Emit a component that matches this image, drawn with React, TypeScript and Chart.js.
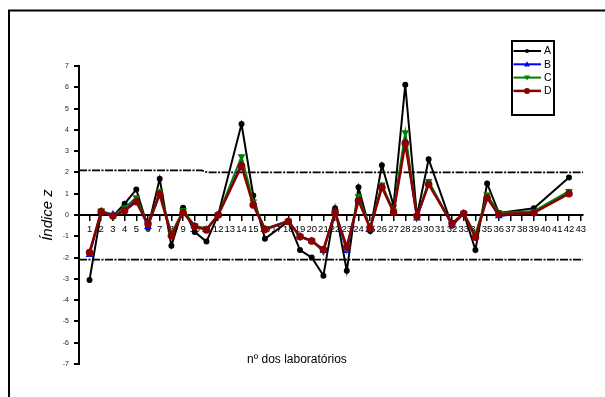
import { useEffect, useRef } from 'react';
import { Chart, registerables } from 'chart.js';
Chart.register(...registerables);

const labs = [1, 2, 3, 4, 5, 6, 7, 8, 9, 10, 11, 12, 13, 14, 15, 16, 17, 18, 19, 20, 21, 22, 23, 24, 25, 26, 27, 28, 29, 30, 31, 32, 33, 34, 35, 36, 37, 38, 39, 40, 41, 42, 43];

const seriesA = [-3.05, 0.15, -0.05, 0.53, 1.2, -0.6, 1.7, -1.45, 0.34, -0.8, -1.25, 0.0, null, 4.27, 0.92, -1.12, null, -0.3, -1.65, -2.0, -2.85, 0.32, -2.62, 1.3, -0.75, 2.34, 0.45, 6.12, -0.05, 2.62, null, -0.5, 0.08, -1.64, 1.48, 0.1, null, null, 0.32, null, null, 1.76, null];
const seriesB = [-1.87, 0.18, 0.02, 0.3, 0.7, -0.55, 1.0, -0.9, 0.15, -0.52, -0.68, 0.0, null, 2.42, 0.55, -0.66, null, -0.28, -1.0, -1.22, -1.68, 0.15, -1.68, 0.78, -0.62, 1.35, 0.15, 3.52, -0.15, 1.5, null, -0.47, 0.07, -0.98, 0.85, -0.05, null, null, 0.15, null, null, 1.05, null];
const seriesC = [-1.8, 0.2, -0.03, 0.34, 0.82, -0.45, 1.1, -0.88, 0.22, -0.5, -0.65, 0.0, null, 2.75, 0.62, -0.65, null, -0.28, -1.0, -1.2, -1.72, 0.18, -1.6, 0.87, -0.6, 1.42, 0.2, 3.87, -0.1, 1.58, null, -0.43, 0.08, -0.92, 0.95, 0.1, null, null, 0.18, null, null, 1.12, null];
const seriesD = [-1.76, 0.15, -0.05, 0.2, 0.62, -0.42, 0.97, -0.97, 0.12, -0.54, -0.7, 0.0, null, 2.3, 0.47, -0.68, null, -0.3, -1.02, -1.22, -1.62, 0.13, -1.5, 0.68, -0.63, 1.3, 0.13, 3.36, -0.05, 1.44, null, -0.4, 0.07, -1.05, 0.8, 0.03, null, null, 0.1, null, null, 1.0, null];

const upperX = [0.1, 10.6, 11.1, 43.2];
const upperY = [2.1, 2.1, 2.0, 2.0];
const lowerX = [0.1, 43.2];
const lowerY = [-2.1, -2.1];

const yTicks = [-7, -6, -5, -4, -3, -2, -1, 0, 1, 2, 3, 4, 5, 6, 7];

const FONT = '"Liberation Sans", Arial, sans-serif';

const mk = (vals: (number | null)[]) => labs.map((x, i) => ({ x, y: vals[i] }));

const legendItems = [
  { label: 'A', color: '#000000', shape: 'circle', r: 2 },
  { label: 'B', color: '#0000ff', shape: 'up', r: 3 },
  { label: 'C', color: '#008000', shape: 'down', r: 3 },
  { label: 'D', color: '#8b0000', shape: 'circle', r: 3 },
];

const decorPlugin = {
  id: 'decor',
  afterDraw(chart: any) {
    const ctx = chart.ctx as CanvasRenderingContext2D;
    const ca = chart.chartArea;
    ctx.save();
    // outer frame
    ctx.strokeStyle = '#000';
    ctx.lineWidth = 2;
    ctx.strokeRect(9, 10.5, 1000, 1000);
    // x-axis title
    ctx.fillStyle = '#000';
    ctx.font = '12px ' + FONT;
    ctx.textAlign = 'center';
    ctx.textBaseline = 'middle';
    ctx.fillText('nº dos laboratórios', ca.left + 0.4325 * (ca.right - ca.left), ca.bottom - 4);
    // legend box
    const bx = 512, by = 41, bw = 42, bh = 74;
    ctx.lineWidth = 2;
    ctx.strokeRect(bx, by, bw, bh);
    ctx.font = '10.5px ' + FONT;
    ctx.textAlign = 'left';
    legendItems.forEach((it, i) => {
      const y = by + 10 + i * 13.3;
      ctx.strokeStyle = it.color;
      ctx.fillStyle = it.color;
      ctx.lineWidth = it.label === 'D' ? 2.5 : 2;
      ctx.beginPath();
      ctx.moveTo(bx + 1.5, y);
      ctx.lineTo(bx + 29, y);
      ctx.stroke();
      const cx = bx + 15;
      ctx.beginPath();
      if (it.shape === 'circle') {
        ctx.arc(cx, y, it.r, 0, Math.PI * 2);
      } else if (it.shape === 'up') {
        ctx.moveTo(cx, y - it.r);
        ctx.lineTo(cx + it.r, y + it.r * 0.7);
        ctx.lineTo(cx - it.r, y + it.r * 0.7);
        ctx.closePath();
      } else {
        ctx.moveTo(cx, y + it.r);
        ctx.lineTo(cx + it.r, y - it.r * 0.7);
        ctx.lineTo(cx - it.r, y - it.r * 0.7);
        ctx.closePath();
      }
      ctx.fill();
      ctx.fillStyle = '#000';
      ctx.fillText(it.label, bx + 32, y + 0.5);
    });
    ctx.restore();
  },
};

export default function App() {
  const ref = useRef<HTMLCanvasElement | null>(null);
  useEffect(() => {
    if (!ref.current) return;
    const dash = [8, 1.5, 2, 1.5];
    const chart = new Chart(ref.current, {
      type: 'line',
      data: {
        datasets: [
          {
            label: 'upper',
            data: upperX.map((x, i) => ({ x, y: upperY[i] })),
            borderColor: '#000',
            borderWidth: 1.8,
            borderDash: dash,
            pointRadius: 0,
            order: 6,
          },
          {
            label: 'lower',
            data: lowerX.map((x, i) => ({ x, y: lowerY[i] })),
            borderColor: '#000',
            borderWidth: 1.8,
            borderDash: dash,
            pointRadius: 0,
            order: 6,
          },
          {
            label: 'A',
            data: mk(seriesA),
            borderColor: '#000000',
            backgroundColor: '#000000',
            borderWidth: 2,
            pointRadius: 2,
            pointStyle: 'circle',
            order: 4,
          },
          {
            label: 'B',
            data: mk(seriesB),
            borderColor: '#0000ff',
            backgroundColor: '#0000ff',
            borderWidth: 2,
            pointRadius: 2.5,
            pointStyle: 'triangle',
            order: 3,
          },
          {
            label: 'C',
            data: mk(seriesC),
            borderColor: '#008000',
            backgroundColor: '#008000',
            borderWidth: 2,
            pointRadius: 2.5,
            pointStyle: 'triangle',
            pointRotation: 180,
            order: 2,
          },
          {
            label: 'D',
            data: mk(seriesD),
            borderColor: '#8b0000',
            backgroundColor: '#8b0000',
            borderWidth: 2.5,
            pointRadius: 2.5,
            pointStyle: 'circle',
            order: 1,
          },
        ],
      },
      options: {
        responsive: false,
        animation: false,
        spanGaps: true,
        layout: { padding: { left: 0, top: 66, right: 22, bottom: 33 } },
        plugins: {
          legend: { display: false },
          tooltip: { enabled: false },
        },
        elements: { line: { tension: 0 } },
        scales: {
          x: {
            type: 'linear',
            min: 0.1,
            max: 43.2,
            position: { y: 0 } as any,
            afterBuildTicks: (scale: any) => {
              scale.ticks = labs.map((v) => ({ value: v }));
            },
            grid: {
              display: true,
              drawOnChartArea: false,
              drawTicks: true,
              tickLength: 5,
              color: '#000',
              lineWidth: 1.5,
            },
            border: { display: true, color: '#000', width: 2 },
            ticks: {
              autoSkip: false,
              maxRotation: 0,
              minRotation: 0,
              padding: 4,
              color: '#000',
              font: { family: FONT, size: 9.5 },
              callback: (v: any) => String(v),
            },
          },
          y: {
            type: 'linear',
            position: 'left',
            min: -7,
            max: 7,
            afterBuildTicks: (scale: any) => {
              scale.ticks = yTicks.map((v) => ({ value: v }));
            },
            afterFit: (scale: any) => {
              scale.width = 79;
            },
            grid: {
              display: true,
              drawOnChartArea: false,
              drawTicks: true,
              tickLength: 5,
              color: '#000',
              lineWidth: 2,
            },
            border: { display: true, color: '#000', width: 2 },
            ticks: {
              padding: 5,
              color: '#222',
              font: { family: FONT, size: 7 },
            },
            title: {
              display: true,
              text: 'Índice z',
              color: '#000',
              font: { family: FONT, size: 15, style: 'italic' },
              padding: { top: 39, bottom: 0 },
            },
          },
        },
      },
      plugins: [decorPlugin],
    });
    return () => chart.destroy();
  }, []);
  return (
    <div style={{ position: 'fixed', left: 0, top: 0, width: 605, height: 397, background: '#fff', overflow: 'hidden' }}>
      <canvas ref={ref} width={605} height={397} style={{ display: 'block', width: 605, height: 397 }} />
    </div>
  );
}
